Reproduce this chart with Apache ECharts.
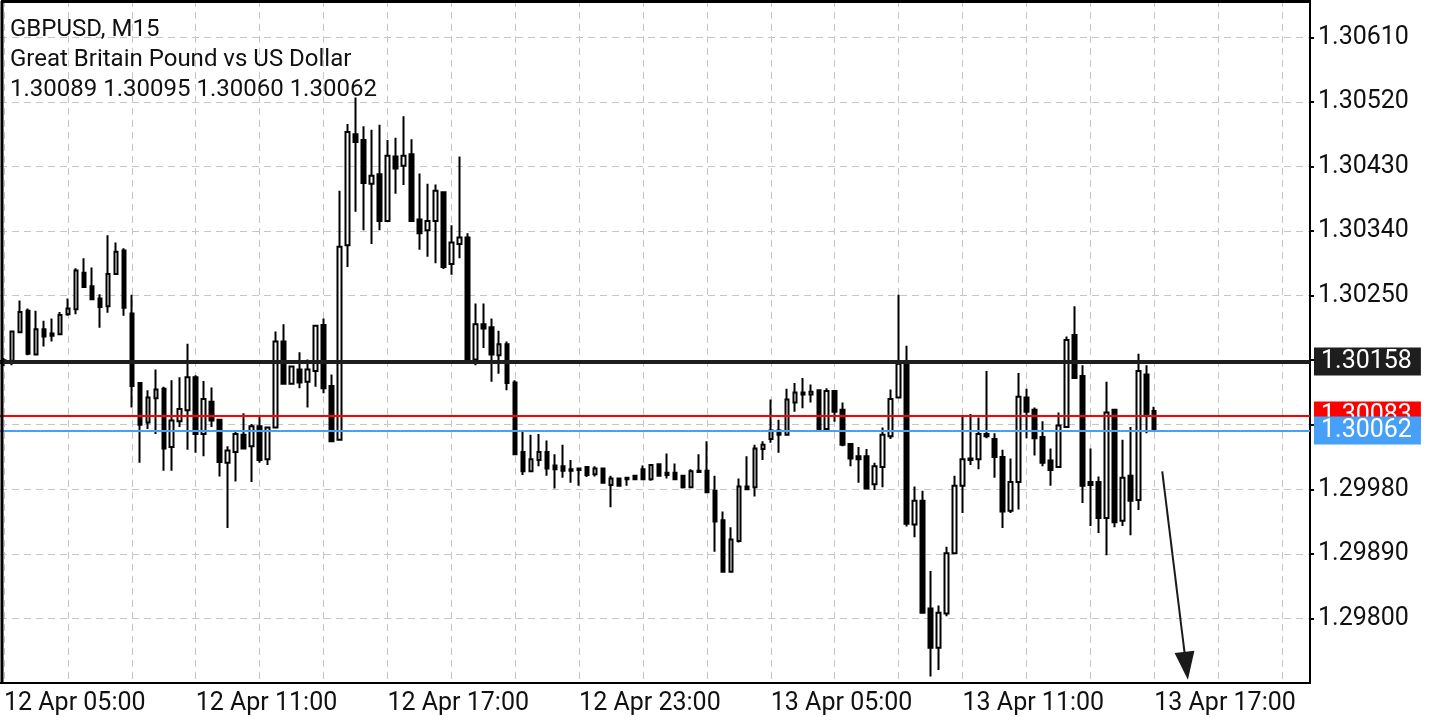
<!DOCTYPE html>
<html>
<head>
<meta charset="utf-8" />
<title>GBPUSD, M15</title>
<script src="https://cdn.jsdelivr.net/npm/echarts@6/dist/echarts.min.js"></script>
<style>
  html, body { margin: 0; padding: 0; background: #ffffff; }
  #main { width: 1440px; height: 720px; }
</style>
</head>
<body>
<div id="main"></div>
<script type="text/javascript">
// 15 minute candles
var opens = [
  1.30157, 1.30159, 1.30199, 1.30229, 1.30168, 1.30203, 1.30197, 1.30196, 1.30224, 1.30231,
  1.30282, 1.30263, 1.30246, 1.30235, 1.30280, 1.30313, 1.30225, 1.30128, 1.30073, 1.30107,
  1.30120, 1.30039, 1.30075, 1.30090, 1.30136, 1.30057, 1.30102, 1.30077, 1.30017, 1.30032,
  1.30056, 1.30040, 1.30068, 1.30022, 1.30066, 1.30186, 1.30127, 1.30147, 1.30130, 1.30145,
  1.30209, 1.30124, 1.30049, 1.30320, 1.30475, 1.30467, 1.30406, 1.30419, 1.30354, 1.30444,
  1.30431, 1.30447, 1.30356, 1.30341, 1.30354, 1.30394, 1.30294, 1.30322, 1.30331, 1.30161,
  1.30210, 1.30206, 1.30167, 1.30182, 1.30129, 1.30032, 1.30005, 1.30021, 1.30032, 1.30013,
  1.30012, 1.30008, 1.30009, 1.30011, 1.30001, 1.30009, 1.29986, 1.29995, 1.29996, 1.29999,
  1.30008, 1.29994, 1.30015, 1.30003, 1.30003, 1.29999, 1.29983, 1.30004, 1.30006, 1.29978,
  1.29937, 1.29865, 1.29908, 1.29984, 1.29983, 1.30036, 1.30050, 1.30062, 1.30056, 1.30101,
  1.30115, 1.30112, 1.30118, 1.30064, 1.30117, 1.30091, 1.30043, 1.30026, 1.30026, 1.29987,
  1.30011, 1.30054, 1.30108, 1.30155, 1.29931, 1.29964, 1.29814, 1.29759, 1.29807, 1.29891,
  1.29985, 1.30021, 1.30022, 1.30057, 1.30050, 1.30025, 1.29950, 1.29990, 1.30108, 1.30091,
  1.30053, 1.30020, 1.30011, 1.30067, 1.30195, 1.30138, 1.29990, 1.29990, 1.29940, 1.30091,
  1.29936, 1.29999, 1.29965, 1.30140, 1.30089
];
var closes = [
  1.30160, 1.30200, 1.30227, 1.30169, 1.30203, 1.30193, 1.30194, 1.30223, 1.30232, 1.30285,
  1.30262, 1.30245, 1.30234, 1.30280, 1.30311, 1.30233, 1.30124, 1.30070, 1.30108, 1.30119,
  1.30037, 1.30076, 1.30092, 1.30136, 1.30057, 1.30106, 1.30076, 1.30018, 1.30034, 1.30057,
  1.30037, 1.30068, 1.30021, 1.30066, 1.30186, 1.30127, 1.30151, 1.30129, 1.30147, 1.30208,
  1.30121, 1.30047, 1.30318, 1.30478, 1.30464, 1.30407, 1.30417, 1.30354, 1.30445, 1.30427,
  1.30445, 1.30354, 1.30337, 1.30354, 1.30396, 1.30290, 1.30324, 1.30331, 1.30160, 1.30210,
  1.30204, 1.30168, 1.30182, 1.30128, 1.30029, 1.30005, 1.30022, 1.30032, 1.30009, 1.30008,
  1.30006, 1.30006, 1.30007, 1.30000, 1.30009, 1.29989, 1.29995, 1.29985, 1.29994, 1.29994,
  1.29994, 1.30014, 1.29999, 1.30000, 1.29994, 1.29983, 1.30005, 1.30006, 1.29976, 1.29935,
  1.29865, 1.29910, 1.29984, 1.29980, 1.30037, 1.30042, 1.30062, 1.30056, 1.30105, 1.30115,
  1.30112, 1.30116, 1.30064, 1.30117, 1.30088, 1.30042, 1.30023, 1.30022, 1.29981, 1.30012,
  1.30056, 1.30106, 1.30155, 1.29932, 1.29964, 1.29808, 1.29759, 1.29808, 1.29891, 1.29985,
  1.30022, 1.30023, 1.30057, 1.30054, 1.30025, 1.29949, 1.29990, 1.30109, 1.30088, 1.30051,
  1.30017, 1.30007, 1.30069, 1.30188, 1.30135, 1.29985, 1.29986, 1.29940, 1.30087, 1.29934,
  1.29996, 1.29964, 1.30145, 1.30084, 1.30062
];
var lows = [
  1.30152, 1.30153, 1.30199, 1.30167, 1.30168, 1.30179, 1.30186, 1.30196, 1.30222, 1.30224,
  1.30262, 1.30245, 1.30205, 1.30226, 1.30280, 1.30222, 1.30094, 1.30017, 1.30064, 1.30057,
  1.30006, 1.30006, 1.30067, 1.30035, 1.30031, 1.30026, 1.30067, 1.29998, 1.29926, 1.29991,
  1.30036, 1.29990, 1.30017, 1.30014, 1.30066, 1.30127, 1.30127, 1.30121, 1.30094, 1.30123,
  1.30114, 1.30047, 1.30049, 1.30290, 1.30367, 1.30341, 1.30322, 1.30341, 1.30354, 1.30392,
  1.30404, 1.30354, 1.30314, 1.30304, 1.30295, 1.30287, 1.30279, 1.30302, 1.30158, 1.30153,
  1.30177, 1.30130, 1.30141, 1.30118, 1.30029, 1.30000, 1.30005, 1.30012, 1.29999, 1.29981,
  1.29996, 1.29989, 1.29985, 1.29997, 1.29998, 1.29989, 1.29955, 1.29985, 1.29985, 1.29994,
  1.29994, 1.29992, 1.29999, 1.29995, 1.29993, 1.29981, 1.29983, 1.30004, 1.29975, 1.29893,
  1.29865, 1.29864, 1.29906, 1.29980, 1.29970, 1.30021, 1.30045, 1.30031, 1.30055, 1.30088,
  1.30093, 1.30101, 1.30064, 1.30064, 1.30074, 1.30040, 1.30012, 1.29989, 1.29981, 1.29979,
  1.29983, 1.30050, 1.30108, 1.29928, 1.29913, 1.29807, 1.29719, 1.29728, 1.29803, 1.29891,
  1.29947, 1.30014, 1.30008, 1.30051, 1.29996, 1.29926, 1.29947, 1.29952, 1.30051, 1.30027,
  1.30012, 1.29985, 1.30011, 1.30067, 1.30135, 1.29961, 1.29929, 1.29919, 1.29888, 1.29927,
  1.29929, 1.29916, 1.29951, 1.30058, 1.30060
];
var highs = [
  1.30163, 1.30200, 1.30243, 1.30232, 1.30229, 1.30215, 1.30218, 1.30227, 1.30246, 1.30288,
  1.30302, 1.30289, 1.30252, 1.30334, 1.30324, 1.30316, 1.30251, 1.30128, 1.30118, 1.30147,
  1.30123, 1.30132, 1.30136, 1.30183, 1.30139, 1.30131, 1.30122, 1.30077, 1.30040, 1.30060,
  1.30086, 1.30071, 1.30081, 1.30066, 1.30200, 1.30210, 1.30151, 1.30171, 1.30161, 1.30208,
  1.30218, 1.30140, 1.30396, 1.30489, 1.30526, 1.30486, 1.30481, 1.30488, 1.30467, 1.30470,
  1.30500, 1.30468, 1.30420, 1.30406, 1.30405, 1.30394, 1.30348, 1.30444, 1.30337, 1.30239,
  1.30239, 1.30218, 1.30201, 1.30186, 1.30132, 1.30060, 1.30056, 1.30057, 1.30048, 1.30029,
  1.30042, 1.30021, 1.30009, 1.30012, 1.30012, 1.30009, 1.29999, 1.29995, 1.29996, 1.29999,
  1.30013, 1.30015, 1.30015, 1.30030, 1.30016, 1.29999, 1.30008, 1.30029, 1.30047, 1.29999,
  1.29949, 1.29927, 1.29995, 1.30026, 1.30042, 1.30047, 1.30105, 1.30077, 1.30120, 1.30128,
  1.30135, 1.30126, 1.30118, 1.30121, 1.30117, 1.30101, 1.30044, 1.30039, 1.30036, 1.30017,
  1.30066, 1.30119, 1.30251, 1.30180, 1.29984, 1.29978, 1.29866, 1.29818, 1.29900, 1.29999,
  1.30081, 1.30085, 1.30080, 1.30145, 1.30058, 1.30035, 1.30023, 1.30142, 1.30120, 1.30094,
  1.30075, 1.30037, 1.30087, 1.30193, 1.30235, 1.30153, 1.30037, 1.29998, 1.30130, 1.30091,
  1.30049, 1.30067, 1.30169, 1.30153, 1.30095
];

var slotCount = 164;               // candles plus the empty space on the right
var startTime = Date.UTC(2024, 3, 12, 5, 0);
var months = ['Jan', 'Feb', 'Mar', 'Apr', 'May', 'Jun', 'Jul', 'Aug', 'Sep', 'Oct', 'Nov', 'Dec'];

var yTicks = [1.29800, 1.29890, 1.29980, 1.30070, 1.30160, 1.30250, 1.30340, 1.30430, 1.30520, 1.30610];
var yLabels = [1.29800, 1.29890, 1.29980, 1.30250, 1.30340, 1.30430, 1.30520, 1.30610];

var bidLevel = 1.30158;
var askLevel = 1.30083;
var lastLevel = 1.30062;

var arrowFrom = [145, 1.30005];
var arrowTo = [148, 1.29734];

function pad(n) { return n < 10 ? '0' + n : '' + n; }

var times = [];
for (var i = 0; i < slotCount; i++) {
  var d = new Date(startTime + i * 15 * 60 * 1000);
  times.push(d.getUTCDate() + ' ' + months[d.getUTCMonth()] + ' ' +
    pad(d.getUTCHours()) + ':' + pad(d.getUTCMinutes()));
}

var candles = opens.map(function (o, i) {
  return [o, closes[i], lows[i], highs[i]];
});

var last = opens.length - 1;
var headerText = 'GBPUSD, M15\nGreat Britain Pound vs US Dollar\n' +
  [opens[last], highs[last], lows[last], closes[last]].map(function (v) { return v.toFixed(5); }).join(' ');

var font = 'Roboto';
var gridLine = { color: '#c6c6c6', width: 1, type: [7, 5] };

function tag(bg) {
  return {
    show: true,
    position: 'end',
    distance: 4,
    formatter: function (p) { return Number(p.value).toFixed(5); },
    backgroundColor: bg,
    color: '#ffffff',
    fontFamily: font,
    fontSize: 25,
    lineHeight: 25,
    padding: [2, 9, 1, 7]
  };
}

var myChart = echarts.init(document.getElementById('main'));

var option = {
  animation: false,
  backgroundColor: '#ffffff',
  title: {
    text: headerText,
    left: 10,
    top: 15,
    padding: 0,
    textStyle: {
      fontFamily: font,
      fontSize: 24,
      fontWeight: 'normal',
      color: '#111111',
      lineHeight: 30
    }
  },
  grid: {
    left: -2,
    right: 130,
    top: 0,
    bottom: 37
  },
  xAxis: {
    type: 'category',
    data: times,
    boundaryGap: true,
    axisLine: { lineStyle: { color: '#000000', width: 2 } },
    axisTick: {
      alignWithLabel: true,
      interval: 23,
      length: 5,
      lineStyle: { color: '#000000', width: 2 }
    },
    axisLabel: {
      interval: 23,
      align: 'left',
      margin: 8,
      fontFamily: font,
      fontSize: 25,
      color: '#111111'
    },
    splitLine: {
      show: true,
      interval: 7,
      alignWithLabel: true,
      lineStyle: gridLine
    }
  },
  yAxis: {
    type: 'value',
    position: 'right',
    min: 1.29710,
    max: 1.30662,
    axisLine: { show: true, lineStyle: { color: '#000000', width: 2 } },
    axisTick: {
      show: true,
      length: 4,
      customValues: yTicks,
      lineStyle: { color: '#000000', width: 2 }
    },
    axisLabel: {
      customValues: yLabels,
      margin: 8,
      padding: [5, 0, 0, 0],
      fontFamily: font,
      fontSize: 25,
      color: '#111111',
      formatter: function (v) { return v.toFixed(5); }
    },
    splitLine: { show: true, lineStyle: gridLine }
  },
  graphic: [
    { type: 'line', z: 10, shape: { x1: 2, y1: 1, x2: 2, y2: 684 }, style: { stroke: '#000000', lineWidth: 3 } },
    { type: 'line', z: 10, shape: { x1: 1, y1: 1.5, x2: 1311, y2: 1.5 }, style: { stroke: '#000000', lineWidth: 3 } }
  ],
  series: [{
    type: 'candlestick',
    data: candles,
    barWidth: 4,
    itemStyle: {
      color: '#ffffff',
      color0: '#000000',
      borderColor: '#000000',
      borderColor0: '#000000',
      borderColorDoji: '#000000',
      borderWidth: 2
    },
    markLine: {
      silent: true,
      precision: 5,
      symbol: ['none', 'none'],
      data: [
        { yAxis: bidLevel, lineStyle: { color: '#1e1e1e', width: 4, type: 'solid' }, label: tag('#1e1e1e') },
        { yAxis: askLevel, lineStyle: { color: '#ff0000', width: 2, type: 'solid' }, label: tag('#ff0000') },
        { yAxis: lastLevel, lineStyle: { color: '#46a0f8', width: 2, type: 'solid' }, label: tag('#46a0f8') },
        [
          { coord: arrowFrom, symbol: 'none', lineStyle: { color: '#1a1a1a', width: 2, type: 'solid' }, label: { show: false } },
          { coord: arrowTo, symbol: 'triangle', symbolSize: [20, 28] }
        ]
      ]
    }
  }]
};

myChart.setOption(option);
window.addEventListener('resize', function () {
  myChart.resize();
});
</script>
</body>
</html>
